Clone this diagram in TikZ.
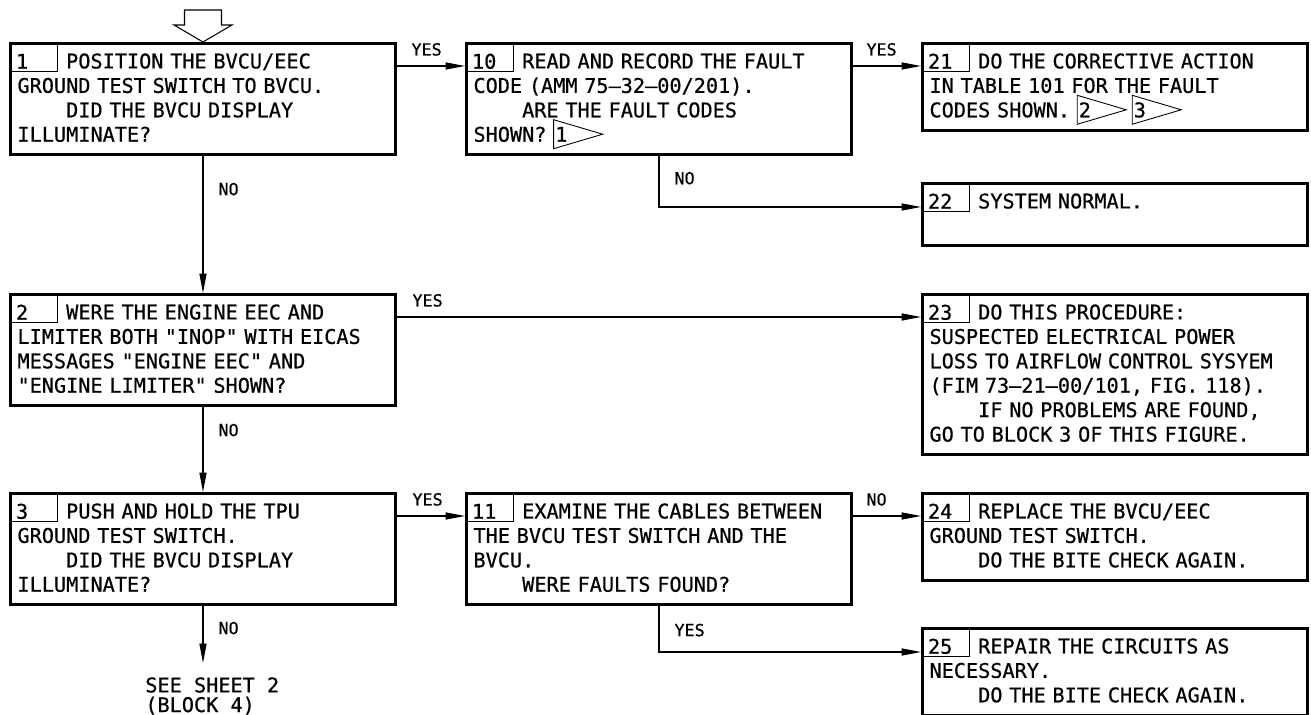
\documentclass[tikz,border=0pt]{standalone}
\usepackage{fontspec}
\usepackage{tikz}
\usetikzlibrary{arrows.meta,positioning}
\newfontfamily\cadfont[WordSpace={1,0,0},FakeBold=0.6]{DejaVu Sans Mono}
\newcommand{\indt}{\phantom{0000}}
\newcommand{\flagnote}[1]{\makebox[0.98cm][l]{\rlap{\tikz[baseline=0pt]
  \draw[line width=0.5pt] (0,-0.14) -- (0,0.44) -- (0.98,0.15) -- cycle;}%
  \hspace{0.04cm}#1}}

\begin{document}
\begin{tikzpicture}[
      font=\cadfont\fontsize{11.5pt}{13.9pt}\selectfont,
      blk/.style={rectangle, draw=black, line width=1.7pt, anchor=north west,
                  text width=7.42cm, align=left, inner xsep=0.14cm,
                  inner ysep=3.2pt, text height=11pt,
                  execute at end node=\strut},
      numc/.style={rectangle, draw=black, line width=0.6pt, anchor=north west,
                   text width=0.7cm, align=left, inner xsep=0.13cm,
                   inner ysep=1.5pt, text height=13.4pt, text depth=0pt},
      lbl/.style={inner sep=0pt, anchor=base west,
                  font=\cadfont\fontsize{9.5pt}{11pt}\selectfont},
      a/.style={-{Triangle[length=11pt,width=4pt]}, line width=0.6pt},
    ]
      \useasboundingbox (0,0) rectangle (26.22,14.30);

      % column 1
      \node[blk] (b1) at (0.18,13.46) {\indt POSITION THE BVCU/EEC\\
        GROUND TEST SWITCH TO BVCU.\\
        \indt DID THE BVCU DISPLAY\\
        ILLUMINATE?};
      \node[numc] (n1) at (b1.north west) {1};

      \node[blk] (b2) at (0.18,8.44) {\indt WERE THE ENGINE EEC AND\\
        LIMITER BOTH "INOP" WITH EICAS\\
        MESSAGES "ENGINE EEC" AND\\
        "ENGINE LIMITER" SHOWN?};
      \node[numc] (n2) at (b2.north west) {2};

      \node[blk] (b3) at (0.18,4.46) {\indt PUSH AND HOLD THE TPU\\
        GROUND TEST SWITCH.\\
        \indt DID THE BVCU DISPLAY\\
        ILLUMINATE?};
      \node[numc] (n3) at (b3.north west) {3};

      \node[align=left, anchor=north west, inner xsep=0pt, inner ysep=0.28cm,
            font=\cadfont\fontsize{11.5pt}{11.2pt}\selectfont]
            (see) at (2.90,1.04) {SEE SHEET 2\\(BLOCK 4)};

      % column 2
      \node[blk] (b10) at (9.30,13.46) {\indt READ AND RECORD THE FAULT\\
        CODE (AMM 75–32–00/201).\\
        \indt ARE THE FAULT CODES\\
        SHOWN? \flagnote{1}};
      \node[numc] (n10) at (b10.north west) {10};

      \node[blk] (b11) at (9.30,4.46) {\indt EXAMINE THE CABLES BETWEEN\\
        THE BVCU TEST SWITCH AND THE\\
        BVCU.\\
        \indt WERE FAULTS FOUND?};
      \node[numc] (n11) at (b11.north west) {11};

      % column 3
      \node[blk] (b21) at (18.42,13.46) {\indt DO THE CORRECTIVE ACTION\\
        IN TABLE 101 FOR THE FAULT\\
        CODES SHOWN. \flagnote{2}\hspace{0.12cm}\flagnote{3}};
      \node[numc] (n21) at (b21.north west) {21};

      \node[blk] (b22) at (18.42,10.66) {\indt SYSTEM NORMAL.\\ \mbox{}};
      \node[numc] (n22) at (b22.north west) {22};

      \node[blk] (b23) at (18.42,8.44) {\indt DO THIS PROCEDURE:\\
        SUSPECTED ELECTRICAL POWER\\
        LOSS TO AIRFLOW CONTROL SYSYEM\\
        (FIM 73–21–00/101, FIG. 118).\\
        \indt IF NO PROBLEMS ARE FOUND,\\
        GO TO BLOCK 3 OF THIS FIGURE.};
      \node[numc] (n23) at (b23.north west) {23};

      \node[blk] (b24) at (18.42,4.46) {\indt REPLACE THE BVCU/EEC\\
        GROUND TEST SWITCH.\\
        \indt DO THE BITE CHECK AGAIN.};
      \node[numc] (n24) at (b24.north west) {24};

      \node[blk] (b25) at (18.42,1.76) {\indt REPAIR THE CIRCUITS AS\\
        NECESSARY.\\
        \indt DO THE BITE CHECK AGAIN.};
      \node[numc] (n25) at (b25.north west) {25};

      % entry arrow
      \draw[line width=0.6pt] (b1.north) -- ++(-0.58,0.34) -- ++(0.21,0)
            -- ++(0,0.30) -- ++(0.74,0) -- ++(0,-0.30) -- ++(0.21,0) -- cycle;

      % connectors
      \draw[a] ([yshift=-0.48cm]b1.north east) -- ([yshift=-0.48cm]b10.north west)
            node[lbl, pos=0, xshift=0.28cm, yshift=0.21cm] {YES};
      \draw[a] ([yshift=-0.48cm]b10.north east) -- ([yshift=-0.48cm]b21.north west)
            node[lbl, pos=0, xshift=0.26cm, yshift=0.21cm] {YES};
      \draw[a] (b10.south) |- ([yshift=-0.5cm]b22.north west)
            node[lbl, pos=0, xshift=0.3cm, yshift=-0.56cm] {NO};
      \draw[a] (b1.south) -- (b2.north)
            node[lbl, pos=0, xshift=0.3cm, yshift=-0.78cm] {NO};
      \draw[a] ([yshift=-0.48cm]b2.north east) -- ([yshift=-0.48cm]b23.north west)
            node[lbl, pos=0, xshift=0.3cm, yshift=0.21cm] {YES};
      \draw[a] (b2.south) -- (b3.north)
            node[lbl, pos=0, xshift=0.3cm, yshift=-0.58cm] {NO};
      \draw[a] ([yshift=-0.48cm]b3.north east) -- ([yshift=-0.48cm]b11.north west)
            node[lbl, pos=0, xshift=0.3cm, yshift=0.21cm] {YES};
      \draw[a] ([yshift=-0.48cm]b11.north east) -- ([yshift=-0.48cm]b24.north west)
            node[lbl, pos=0, xshift=0.26cm, yshift=0.21cm] {NO};
      \draw[a] (b11.south) |- ([yshift=-0.5cm]b25.north west)
            node[lbl, pos=0, xshift=0.3cm, yshift=-0.6cm] {YES};
      \draw[a] (b3.south) -- (b3.south |- see.north)
            node[lbl, pos=0, xshift=0.3cm, yshift=-0.56cm] {NO};
\end{tikzpicture}
\end{document}
